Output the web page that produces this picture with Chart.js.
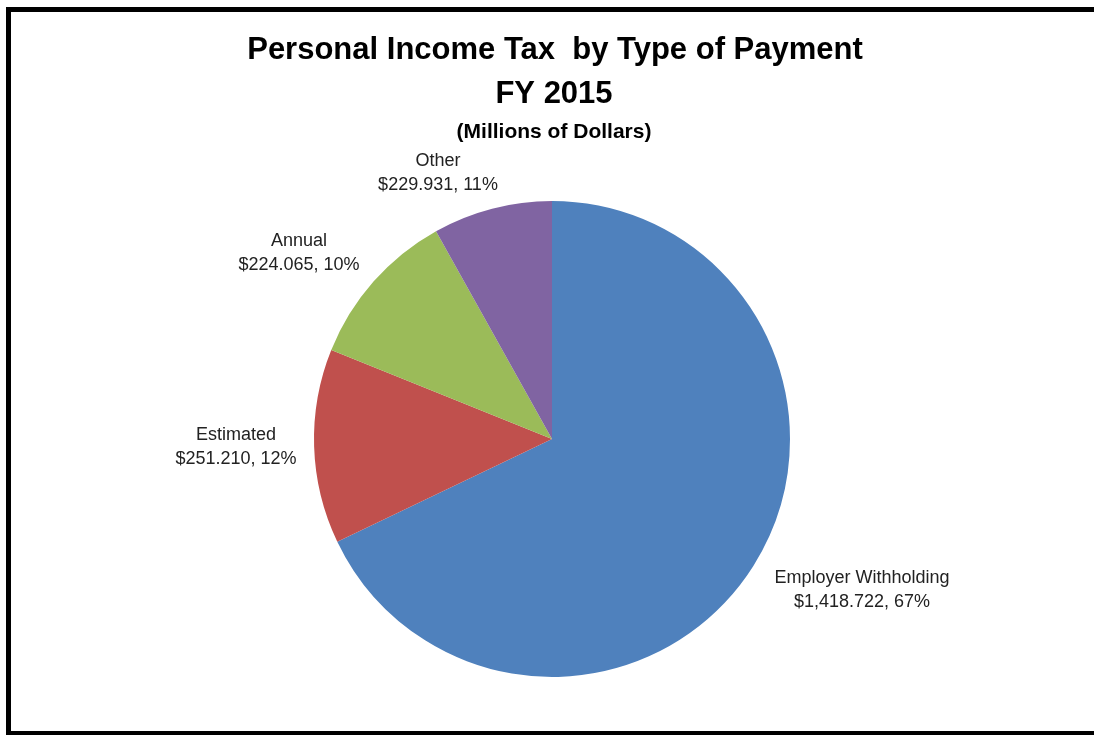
<!DOCTYPE html>
<html>
<head>
<meta charset="utf-8">
<script src="https://cdn.jsdelivr.net/npm/chart.js@4"></script>
<style>
  html, body { margin: 0; padding: 0; width: 1094px; height: 735px; overflow: hidden; background: #fff; }
  #frame { position: absolute; left: 6px; top: 7px; width: 1200px; height: 719px;
           border-left: 5px solid #000; border-top: 5px solid #000; border-bottom: 4px solid #000; }
  #c { position: absolute; left: 0; top: 0; }
</style>
</head>
<body>
<div id="frame"></div>
<canvas id="c" width="1094" height="735"></canvas>
<script>
// ---- data ----
const categories = ["Employer Withholding", "Estimated", "Annual", "Other"];
// dollar amounts and percentages as printed on the labels (millions of dollars)
const labelAmounts = ["$1,418.722", "$251.210", "$224.065", "$229.931"];
const labelPercents = ["67%", "12%", "10%", "11%"];
// slice shares as drawn in the picture (percent of the circle)
const sliceShares = [67.9, 13.2, 10.8, 8.1];

const titleLines = ["Personal Income Tax  by Type of Payment", "FY 2015"];
const subtitleText = "(Millions of Dollars)";

// ---- styles ----
const colors = ["#4F81BD", "#C0504D", "#9BBB59", "#8064A2"];
// label block centres relative to the pie centre
const labelOffsets = [[310, 151], [-316, 8], [-253, -186], [-114, -266]];

const textPlugin = {
  id: "texts",
  afterDatasetsDraw(chart) {
    const ctx = chart.ctx;
    const arc = chart.getDatasetMeta(0).data[0];
    const cx = arc.x, cy = arc.y;
    ctx.save();
    ctx.textAlign = "center";
    ctx.textBaseline = "middle";
    ctx.fillStyle = "#000";
    ctx.font = "bold 31px 'Liberation Sans', Arial, sans-serif";
    ctx.fillText(titleLines[0], 555, 50);
    ctx.fillText(titleLines[1], 554, 94);
    ctx.font = "bold 21px 'Liberation Sans', Arial, sans-serif";
    ctx.fillText(subtitleText, 554, 132);
    ctx.fillStyle = "#222";
    ctx.font = "18px 'Liberation Sans', Arial, sans-serif";
    categories.forEach((name, i) => {
      const x = cx + labelOffsets[i][0];
      const y = cy + labelOffsets[i][1];
      ctx.fillText(name, x, y - 12);
      ctx.fillText(labelAmounts[i] + ", " + labelPercents[i], x, y + 12);
    });
    ctx.restore();
  }
};

new Chart(document.getElementById("c"), {
  type: "pie",
  data: {
    labels: categories,
    datasets: [{
      data: sliceShares,
      backgroundColor: colors,
      borderWidth: 0
    }]
  },
  options: {
    responsive: false,
    animation: false,
    layout: { padding: { top: 201, bottom: 58, left: 314, right: 304 } },
    plugins: {
      legend: { display: false },
      title: { display: false },
      tooltip: { enabled: false }
    }
  },
  plugins: [textPlugin]
});
</script>
</body>
</html>
